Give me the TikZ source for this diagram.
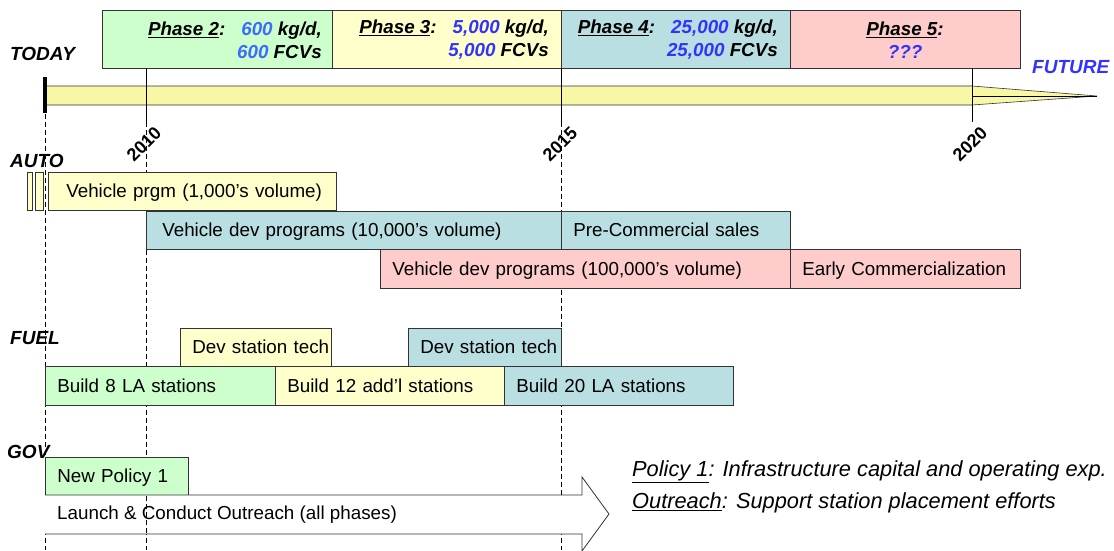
\documentclass[tikz,border=0pt]{standalone}
\usepackage{fontspec}
\setmainfont{Liberation Sans}
\setsansfont{Liberation Sans}
\definecolor{pgreen}{HTML}{CCFFCC}
\definecolor{pyellow}{HTML}{FFFFCC}
\definecolor{pcyan}{HTML}{B9DFE2}
\definecolor{ppink}{HTML}{FFCCCC}
\definecolor{barfill}{HTML}{F7F7A6}
\definecolor{numblue}{HTML}{3333FF}
\definecolor{lightblue}{HTML}{3D6BFF}
\definecolor{edge}{HTML}{333333}
\newcommand{\nb}[1]{{\color{numblue}#1}}
% task bar: name, left, top, right, bottom, fill, text
\newcommand{\taskbar}[7]{%
  \node[taskbox, fill=#6, anchor=north west,
        minimum width={(#4-#2)*1pt}, minimum height={(#5-#3)*1pt},
        text width={(#4-#2-24)*1pt}] (#1) at (#2,#3) {\hbox{#7}};}
\begin{document}
\begin{tikzpicture}[x=1pt,y=-1pt,
  taskbox/.style={draw=edge, line width=0.6pt, inner xsep=12pt, inner ysep=0pt,
                  align=left, text height=13.5pt, text depth=1pt,
                  font=\fontsize{18.8}{22}\selectfont},
  phasebox/.style={draw=edge, line width=0.6pt, inner sep=0pt, anchor=north west},
  phasetext/.style={inner sep=0pt, align=right,
                    font=\fontsize{18.8}{23}\selectfont\bfseries\itshape},
  rowlabel/.style={inner sep=0pt, anchor=west,
                   font=\fontsize{19}{22}\selectfont\bfseries\itshape},
  yearlabel/.style={inner sep=0pt, rotate=45,
                    font=\fontsize{18}{21}\selectfont\bfseries},
  yearline/.style={draw=black, line width=0.8pt, dash pattern=on 5pt off 3pt},
  tick/.style={draw=black, line width=0.8pt},
  legend/.style={inner sep=0pt, anchor=west, font=\fontsize{21.8}{25}\selectfont\itshape}]
\useasboundingbox (0,0) rectangle (1114,550);

% dashed guide lines for today, 2010 and 2015
\coordinate (g0t) at (45,114);  \coordinate (g0b) at (45,550);
\coordinate (g1t) at (146,122); \coordinate (g1b) at (146,550);
\coordinate (g2t) at (561,122); \coordinate (g2b) at (561,550);
\draw[yearline] (g0t) -- (g0b);
\draw[yearline] (g1t) -- (g1b);
\draw[yearline] (g2t) -- (g2b);

% phase boxes
\node[phasebox, fill=pgreen,  minimum width=230pt, minimum height=58pt] (ph2) at (102,10) {};
\node[phasebox, fill=pyellow, minimum width=229pt, minimum height=58pt] (ph3) at (332,10) {};
\node[phasebox, fill=pcyan,   minimum width=229pt, minimum height=58pt] (ph4) at (561,10) {};
\node[phasebox, fill=ppink,   minimum width=230pt, minimum height=58pt] (ph5) at (790,10) {};
\node[phasetext, anchor=east] (ph2t) at (322,40)
  {\underline{Phase 2}:\hspace{16pt}{\color{lightblue}600} kg/d,\\{\color{lightblue}600} FCVs};
\node[phasetext, anchor=east] (ph3t) at (549,40)
  {\underline{Phase 3}:\hspace{16pt}\nb{5,000} kg/d,\\\nb{5,000} FCVs};
\node[phasetext, anchor=east] (ph4t) at (778,40)
  {\underline{Phase 4}:\hspace{16pt}\nb{25,000} kg/d,\\\nb{25,000} FCVs};
\node[phasetext, align=center] (ph5t) at (905,40)
  {\underline{Phase 5}:\\\nb{???}};

% timeline arrow
\coordinate (tl0) at (45,86);
\coordinate (tip) at (1097,96);
\draw[draw=edge, line width=0.6pt, fill=barfill]
  (tl0) -- (972,86) -- (tip) -- (972,105) -- (45,105) -- cycle;
\draw[line width=1pt] (972,96) -- (tip);
\draw[line width=4pt] (45,77) -- (45,113);

% year ticks
\coordinate (y1a) at (146,68);  \coordinate (y1b) at (146,122);
\coordinate (y2a) at (561,68);  \coordinate (y2b) at (561,122);
\coordinate (y3a) at (972,68);  \coordinate (y3b) at (972,122);
\draw[tick] (y1a) -- (y1b);
\draw[tick] (y2a) -- (y2b);
\draw[tick] (y3a) -- (y3b);
\node[yearlabel] (yr2010) at (144,144) {2010};
\node[yearlabel] (yr2015) at (560,144) {2015};
\node[yearlabel] (yr2020) at (970,144) {2020};

% row labels
\node[rowlabel] (today) at (10,54) {TODAY};
\node[rowlabel, text=numblue] (future) at (1032,67) {FUTURE};
\node[rowlabel] (auto) at (10,161) {AUTO};
\node[rowlabel] (fuel) at (10,338) {FUEL};
\node[rowlabel] (gov) at (7,452) {GOV};

% AUTO rows
\node[phasebox, fill=pyellow, minimum width=5pt, minimum height=38pt] (a0) at (27,172) {};
\node[phasebox, fill=pyellow, minimum width=8pt, minimum height=38pt] (a1) at (35,172) {};
\taskbar{a2}{48}{172}{336}{210}{pyellow}{\hspace{6pt}Vehicle prgm (1,000’s volume)}
\taskbar{a3}{146}{211}{561}{249}{pcyan}{\hspace{4pt}Vehicle dev programs (10,000’s volume)}
\taskbar{a4}{561}{211}{790}{249}{pcyan}{Pre-Commercial sales}
\taskbar{a5}{380}{249}{790}{288}{ppink}{Vehicle dev programs (100,000’s volume)}
\taskbar{a6}{790}{249}{1020}{288}{ppink}{Early Commercialization}

% FUEL rows
\taskbar{f1}{180}{328}{331}{366}{pyellow}{Dev station tech}
\taskbar{f2}{408}{328}{561}{366}{pcyan}{Dev station tech}
\taskbar{f3}{45}{366}{275}{405}{pgreen}{Build 8 LA stations}
\taskbar{f4}{275}{366}{504}{405}{pyellow}{Build 12 add’l stations}
\taskbar{f5}{504}{366}{733}{405}{pcyan}{Build 20 LA stations}

% GOV rows
\taskbar{g1}{45}{457}{188}{495}{pgreen}{New Policy 1}
\coordinate (ob) at (45,495);
\draw[draw=edge, line width=0.8pt, fill=white]
  (ob) -- (582,495) -- (582,477) -- (609,514) -- (582,551) -- (582,534) -- (45,534);
\draw[yearline] (146,496) -- (146,533);
\node[inner sep=0pt, anchor=west, font=\fontsize{18.8}{22}\selectfont] (outreach) at (57,515)
  {Launch \& Conduct Outreach (all phases)};

% legend
\node[legend] (leg1) at (632,472) {\underline{Policy 1}: Infrastructure capital and operating exp.};
\node[legend] (leg2) at (632,503) {\underline{Outreach}: Support station placement efforts};
\end{tikzpicture}
\end{document}
